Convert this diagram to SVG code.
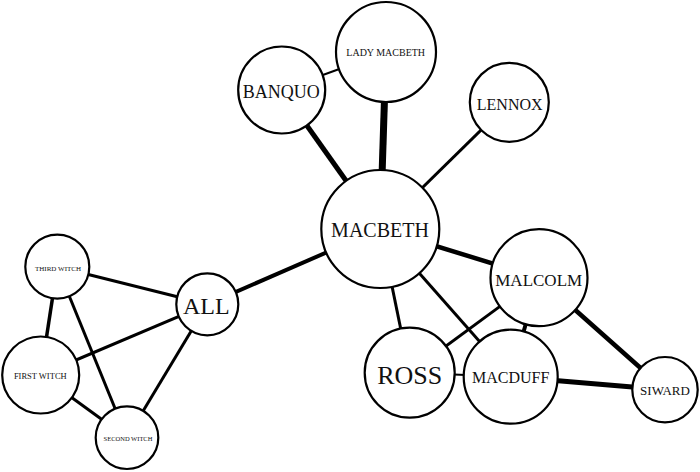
<svg xmlns="http://www.w3.org/2000/svg" width="700" height="472" viewBox="0 0 700 472">
<style>
  .node circle { fill: #ffffff; stroke: #000000; stroke-width: 2.2; }
  .node text { font-family: 'Liberation Serif', 'DejaVu Serif', serif; fill: #111111; text-anchor: middle; }
  .edges line { stroke: #000000; stroke-linecap: butt; }
</style>
<rect x="0" y="0" width="700" height="472" fill="#ffffff"/>
<g id="connectors" class="edges">
  <line x1="281.7" y1="90" x2="386" y2="52" stroke-width="2"/>
  <line x1="281.7" y1="90" x2="380.3" y2="229" stroke-width="5"/>
  <line x1="386" y1="52" x2="380.3" y2="229" stroke-width="7"/>
  <line x1="509.3" y1="102.3" x2="380.3" y2="229" stroke-width="3"/>
  <line x1="380.3" y1="229" x2="539" y2="277.7" stroke-width="4.5"/>
  <line x1="380.3" y1="229" x2="409.7" y2="372.7" stroke-width="3"/>
  <line x1="380.3" y1="229" x2="510.7" y2="376.7" stroke-width="3"/>
  <line x1="380.3" y1="229" x2="207.3" y2="304.3" stroke-width="4"/>
  <line x1="539" y1="277.7" x2="409.7" y2="372.7" stroke-width="3"/>
  <line x1="539" y1="277.7" x2="510.7" y2="376.7" stroke-width="4"/>
  <line x1="539" y1="277.7" x2="665" y2="389.7" stroke-width="4.5"/>
  <line x1="409.7" y1="372.7" x2="510.7" y2="376.7" stroke-width="2"/>
  <line x1="510.7" y1="376.7" x2="665" y2="389.7" stroke-width="5"/>
  <line x1="207.3" y1="304.3" x2="57.3" y2="266.7" stroke-width="3"/>
  <line x1="207.3" y1="304.3" x2="40.7" y2="375" stroke-width="3"/>
  <line x1="207.3" y1="304.3" x2="127" y2="437.7" stroke-width="3"/>
  <line x1="57.3" y1="266.7" x2="40.7" y2="375" stroke-width="3.5"/>
  <line x1="57.3" y1="266.7" x2="127" y2="437.7" stroke-width="3"/>
  <line x1="40.7" y1="375" x2="127" y2="437.7" stroke-width="3"/>
</g>
<g id="node-macbeth" class="node"><circle cx="380.3" cy="229" r="59"/><text x="380" y="237" font-size="20">MACBETH</text></g>
<g id="node-lady-macbeth" class="node"><circle cx="386" cy="52" r="50"/><text x="385.7" y="56.3" font-size="10">LADY MACBETH</text></g>
<g id="node-banquo" class="node"><circle cx="281.7" cy="90" r="43.5"/><text x="281.3" y="98" font-size="18">BANQUO</text></g>
<g id="node-lennox" class="node"><circle cx="509.3" cy="102.3" r="39.5"/><text x="509.7" y="109.6" font-size="16">LENNOX</text></g>
<g id="node-malcolm" class="node"><circle cx="539" cy="277.7" r="48.5"/><text x="538.7" y="285.6" font-size="17">MALCOLM</text></g>
<g id="node-ross" class="node"><circle cx="409.7" cy="372.7" r="45"/><text x="409.7" y="383.6" font-size="26">ROSS</text></g>
<g id="node-macduff" class="node"><circle cx="510.7" cy="376.7" r="47"/><text x="510.7" y="383" font-size="16">MACDUFF</text></g>
<g id="node-siward" class="node"><circle cx="665" cy="389.7" r="32.7"/><text x="665" y="395" font-size="13">SIWARD</text></g>
<g id="node-all" class="node"><circle cx="207.3" cy="304.3" r="31"/><text x="206.3" y="314.2" font-size="24">ALL</text></g>
<g id="node-third-witch" class="node"><circle cx="57.3" cy="266.7" r="32"/><text x="58" y="270.6" font-size="7">THIRD WITCH</text></g>
<g id="node-first-witch" class="node"><circle cx="40.7" cy="375" r="38.5"/><text x="40.3" y="378.8" font-size="8.5">FIRST WITCH</text></g>
<g id="node-second-witch" class="node"><circle cx="127" cy="437.7" r="31.3"/><text x="128" y="441.2" font-size="6.5">SECOND WITCH</text></g>
</svg>
